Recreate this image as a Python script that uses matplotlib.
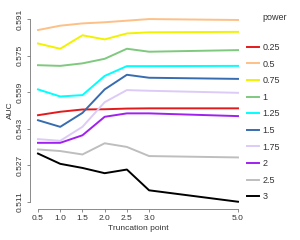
import matplotlib
matplotlib.use("Agg")
import matplotlib.pyplot as plt

trunc = [0.5, 1.0, 1.5, 2.0, 2.5, 3.0, 5.0]
powers = ["0.25", "0.5", "0.75", "1", "1.25", "1.5", "1.75", "2", "2.5", "3"]
auc = {
    "0.25": [0.5489, 0.5504, 0.5514, 0.5515, 0.5518, 0.5519, 0.5519],
    "0.5":  [0.5862, 0.5881, 0.5891, 0.5896, 0.5903, 0.5910, 0.5906],
    "0.75": [0.5803, 0.5780, 0.5839, 0.5821, 0.5847, 0.5852, 0.5854],
    "1":    [0.5708, 0.5705, 0.5716, 0.5736, 0.5780, 0.5767, 0.5774],
    "1.25": [0.5602, 0.5571, 0.5577, 0.5661, 0.5704, 0.5704, 0.5705],
    "1.5":  [0.5467, 0.5438, 0.5499, 0.5602, 0.5666, 0.5653, 0.5648],
    "1.75": [0.5384, 0.5377, 0.5438, 0.5546, 0.5599, 0.5596, 0.5587],
    "2":    [0.5368, 0.5368, 0.5401, 0.5482, 0.5497, 0.5497, 0.5485],
    "2.5":  [0.5339, 0.5332, 0.5317, 0.5366, 0.5350, 0.5310, 0.5304],
    "3":    [0.5321, 0.5276, 0.5258, 0.5235, 0.5251, 0.5160, 0.5110],
}
colors = {
    "0.25": "#e31a1c", "0.5": "#fdc086", "0.75": "#f2f200", "1": "#7fc97f",
    "1.25": "#00ffff", "1.5": "#386cb0", "1.75": "#dccbf7", "2": "#a020f0",
    "2.5": "#bebebe", "3": "#000000",
}
yticks = [0.511, 0.527, 0.543, 0.559, 0.575, 0.591]
xticks = [0.5, 1.0, 1.5, 2.0, 2.5, 3.0, 5.0]

plt.rcParams['font.family'] = ['Liberation Sans', 'DejaVu Sans']
fig = plt.figure(figsize=(3.0, 2.4), dpi=100)
ax = fig.add_axes([0.10, 0.129, 0.72, 0.822])

for p in powers:
    ax.plot(trunc, auc[p], color=colors[p], lw=1.4, label=p)

ax.set_xlim(0.32, 5.18)
ax.set_ylim(0.5078, 0.5942)
for s in ["top", "right"]:
    ax.spines[s].set_visible(False)
ax.spines["left"].set_bounds(0.511, 0.591)
ax.spines["bottom"].set_bounds(0.5, 5.0)
for s in ["left", "bottom"]:
    ax.spines[s].set_color("#777777")
    ax.spines[s].set_linewidth(0.6)
ax.set_yticks(yticks)
ax.set_yticklabels([f"{v:.3f}" for v in yticks], rotation=90, va="center")
ax.set_xticks(xticks)
ax.set_xticklabels([f"{v:.1f}" for v in xticks])
ax.tick_params(labelsize=6, length=2.5, width=0.6, color="#777777", pad=2, labelcolor="#333333")
ax.set_xlabel("Truncation point", fontsize=6, color="#333333", labelpad=2)
ax.set_ylabel("AUC", fontsize=6, color="#333333", labelpad=2)

leg = fig.legend(*ax.get_legend_handles_labels(), loc="upper left",
                 bbox_to_anchor=(247 / 300, 1 - 43 / 240),
                 frameon=False, fontsize=6.5,
                 handlelength=1.33, handletextpad=0.35, labelspacing=0.84,
                 borderaxespad=0, borderpad=0)
for t in leg.get_texts():
    t.set_color("#333333")
fig.text(262 / 300, 1 - 18 / 240, "power", fontsize=6.5, color="#333333",
         ha="left", va="center")

fig.savefig("out.png", dpi=100)
